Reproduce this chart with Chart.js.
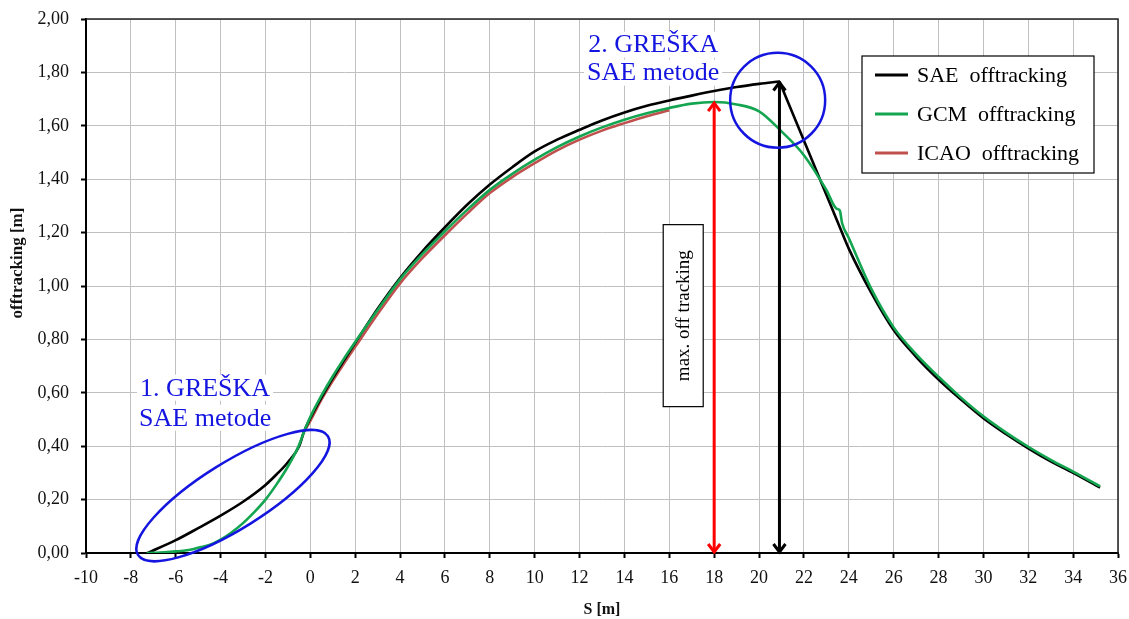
<!DOCTYPE html>
<html>
<head>
<meta charset="utf-8">
<script src="https://cdn.jsdelivr.net/npm/chart.js@4.4.0/dist/chart.umd.min.js"></script>
<style>
  body { margin: 0; background: #fff; }
</style>
</head>
<body>
<canvas id="chart" width="1129" height="619"></canvas>
<script>
// series
const saeX = [-7.25, -6, -5, -4, -3, -2, -1.5, -1, -0.5, -0.28, 0, 0.5, 1, 1.5, 2, 3, 4, 5, 6, 7, 8, 9, 10, 11, 12, 13, 14, 15, 16, 17, 18, 19, 20, 20.91, 22, 23, 23.6, 24, 25, 26, 27, 28, 29, 30, 31, 32, 33, 34, 35.2];
const saeY = [0, 0.048, 0.093, 0.14, 0.192, 0.255, 0.295, 0.34, 0.4, 0.455, 0.505, 0.583, 0.655, 0.722, 0.787, 0.915, 1.03, 1.13, 1.22, 1.305, 1.38, 1.445, 1.504, 1.548, 1.585, 1.62, 1.65, 1.675, 1.695, 1.713, 1.73, 1.745, 1.757, 1.766, 1.545, 1.342, 1.22, 1.14, 0.975, 0.835, 0.735, 0.65, 0.575, 0.505, 0.446, 0.392, 0.343, 0.3, 0.245];

const gcmX = [-7.3, -6.5, -6, -5.5, -5.2, -5, -4.5, -4, -3.5, -3, -2.5, -2, -1.5, -1, -0.5, -0.28, 0, 0.5, 1, 1.5, 2, 3, 4, 5, 6, 7, 8, 9, 10, 11, 12, 13, 14, 15, 16, 17, 18, 19, 20, 21, 22, 23, 23.45, 23.6, 23.7, 24, 25, 26, 27, 28, 29, 30, 31, 32, 33, 34, 35.2];
const gcmY = [0, 0.003, 0.006, 0.01, 0.015, 0.02, 0.03, 0.05, 0.078, 0.112, 0.153, 0.2, 0.258, 0.324, 0.405, 0.455, 0.51, 0.59, 0.662, 0.728, 0.79, 0.91, 1.025, 1.12, 1.205, 1.286, 1.36, 1.42, 1.473, 1.52, 1.56, 1.594, 1.623, 1.647, 1.667, 1.683, 1.689, 1.68, 1.654, 1.579, 1.49, 1.36, 1.29, 1.283, 1.236, 1.18, 0.99, 0.845, 0.745, 0.66, 0.582, 0.512, 0.452, 0.398, 0.349, 0.305, 0.25];

const icaoX = [-0.28, 0, 0.5, 1, 1.5, 2, 3, 4, 5, 6, 7, 8, 9, 10, 11, 12, 13, 14, 15, 16];
const icaoY = [0.455, 0.495, 0.575, 0.645, 0.71, 0.772, 0.895, 1.01, 1.105, 1.19, 1.272, 1.348, 1.408, 1.46, 1.508, 1.548, 1.582, 1.61, 1.636, 1.658];

const seriesNames = ["SAE  offtracking", "GCM  offtracking", "ICAO  offtracking"];
const seriesColors = ["#000000", "#14a550", "#c0504d"];

const xMin = -10, xMax = 36, xStep = 2;
const yMin = 0, yMax = 2, yStep = 0.2;

const toPoints = (xs, ys) => xs.map((x, i) => ({ x: x, y: ys[i] }));
const peakIndex = (ys) => {
  let k = 0;
  ys.forEach((v, i) => { if (v > ys[k]) k = i; });
  return k;
};

const serif = "'Liberation Serif', 'Times New Roman', serif";

function arrow(ctx, px, yTop, yBottom, color) {
  const head = 9, half = 6;
  ctx.strokeStyle = color;
  ctx.lineWidth = 3;
  ctx.beginPath();
  ctx.moveTo(px, yTop + 1);
  ctx.lineTo(px, yBottom - 1);
  ctx.stroke();
  ctx.beginPath();
  ctx.moveTo(px - half, yTop + head);
  ctx.lineTo(px, yTop + 1);
  ctx.lineTo(px + half, yTop + head);
  ctx.moveTo(px - half, yBottom - head);
  ctx.lineTo(px, yBottom - 1);
  ctx.lineTo(px + half, yBottom - head);
  ctx.stroke();
}

function boxedText(ctx, lines, cx, cy, lineH, color) {
  ctx.font = "26px " + serif;
  ctx.textAlign = "center";
  ctx.textBaseline = "middle";
  lines.forEach((t, i) => {
    const w = ctx.measureText(t).width;
    const ty = cy + i * lineH;
    ctx.fillStyle = "#fff";
    ctx.fillRect(cx - w / 2 - 3, ty - 13, w + 6, 26);
  });
  lines.forEach((t, i) => {
    ctx.fillStyle = color;
    ctx.fillText(t, cx, cy + i * lineH + 1);
  });
}

const frame = {
  id: "frame",
  beforeDatasetsDraw(chart) {
    const { ctx, chartArea: a } = chart;
    ctx.save();
    ctx.strokeStyle = "#222";
    ctx.lineWidth = 1.5;
    ctx.beginPath();
    ctx.moveTo(a.left, a.top);
    ctx.lineTo(a.right, a.top);
    ctx.lineTo(a.right, a.bottom);
    ctx.stroke();

    // y title sits a bit above the middle of the axis in the original
    ctx.translate(18, a.top + (a.bottom - a.top) * 0.457);
    ctx.rotate(-Math.PI / 2);
    ctx.font = "bold 17px " + serif;
    ctx.fillStyle = "#111";
    ctx.textAlign = "center";
    ctx.textBaseline = "middle";
    ctx.fillText("offtracking [m]", 0, 0);
    ctx.restore();
  }
};

const annotations = {
  id: "annotations",
  afterDatasetsDraw(chart) {
    const { ctx, chartArea: a, scales: { x, y } } = chart;
    ctx.save();

    // vertical arrows to the two maxima
    const gi = peakIndex(gcmY), si = peakIndex(saeY);
    arrow(ctx, x.getPixelForValue(gcmX[gi]), y.getPixelForValue(gcmY[gi]), y.getPixelForValue(0), "#ff0000");
    arrow(ctx, x.getPixelForValue(saeX[si]), y.getPixelForValue(saeY[si]), y.getPixelForValue(0), "#000000");

    // rotated text box
    const bx = x.getPixelForValue(16.62), by = y.getPixelForValue(0.889);
    ctx.fillStyle = "#fff";
    ctx.fillRect(bx - 20, by - 91, 40, 182);
    ctx.strokeStyle = "#000";
    ctx.lineWidth = 1.2;
    ctx.strokeRect(bx - 20, by - 91, 40, 182);
    ctx.save();
    ctx.translate(bx, by);
    ctx.rotate(-Math.PI / 2);
    ctx.font = "19px " + serif;
    ctx.fillStyle = "#000";
    ctx.textAlign = "center";
    ctx.textBaseline = "middle";
    ctx.fillText("max. off tracking", 0, 1);
    ctx.restore();

    // blue marks
    ctx.strokeStyle = "#1515e0";
    ctx.lineWidth = 2.5;
    ctx.beginPath();
    ctx.ellipse(x.getPixelForValue(-3.45), y.getPixelForValue(0.215), 112, 33, -32 * Math.PI / 180, 0, Math.PI * 2);
    ctx.stroke();
    ctx.beginPath();
    ctx.arc(x.getPixelForValue(20.83), y.getPixelForValue(1.696), 47.5, 0, Math.PI * 2);
    ctx.stroke();

    boxedText(ctx, ["1. GREŠKA", "SAE metode"], x.getPixelForValue(-4.69), y.getPixelForValue(0.619), 30, "#1515e0");
    boxedText(ctx, ["2. GREŠKA", "SAE metode"], x.getPixelForValue(15.28), y.getPixelForValue(1.904), 28, "#1515e0");

    // legend
    const lx = a.right - 256, ly = a.top + 37, lw = 232, lh = 117;
    ctx.fillStyle = "#fff";
    ctx.fillRect(lx, ly, lw, lh);
    ctx.strokeStyle = "#000";
    ctx.lineWidth = 1.2;
    ctx.strokeRect(lx, ly, lw, lh);
    ctx.font = "22px " + serif;
    ctx.textAlign = "left";
    ctx.textBaseline = "middle";
    seriesNames.forEach((name, i) => {
      const ry = ly + 19 + i * 39;
      ctx.strokeStyle = seriesColors[i];
      ctx.lineWidth = 3;
      ctx.beginPath();
      ctx.moveTo(lx + 13, ry);
      ctx.lineTo(lx + 46, ry);
      ctx.stroke();
      ctx.fillStyle = "#000";
      ctx.fillText(name, lx + 55, ry + 1);
    });

    ctx.restore();
  }
};

const lineStyle = (i) => ({
  borderColor: seriesColors[i],
  backgroundColor: seriesColors[i],
  borderWidth: 2.6,
  pointRadius: 0,
  showLine: true,
  fill: false,
  cubicInterpolationMode: "monotone"
});

// SAE has a sharp corner at its maximum, so draw it as two runs meeting there
const saePeak = peakIndex(saeY);
const saeRise = toPoints(saeX.slice(0, saePeak + 1), saeY.slice(0, saePeak + 1));
const saeFall = toPoints(saeX.slice(saePeak), saeY.slice(saePeak));

new Chart(document.getElementById("chart"), {
  type: "scatter",
  data: {
    datasets: [
      { label: seriesNames[0], data: saeRise, order: 1, ...lineStyle(0) },
      { label: seriesNames[0], data: saeFall, order: 1, ...lineStyle(0) },
      { label: seriesNames[1], data: toPoints(gcmX, gcmY), order: 0, ...lineStyle(1) },
      { label: seriesNames[2], data: toPoints(icaoX, icaoY), order: 2, ...lineStyle(2) }
    ]
  },
  options: {
    responsive: false,
    animation: false,
    layout: { padding: { top: 19, right: 11, left: 0, bottom: 0 } },
    plugins: {
      legend: { display: false },
      tooltip: { enabled: false }
    },
    scales: {
      x: {
        type: "linear",
        min: xMin,
        max: xMax,
        afterFit: (scale) => {
          scale.height = 66;
          scale.paddingLeft = 0;
          scale.paddingRight = 0;
        },
        afterBuildTicks: (scale) => {
          const t = [];
          for (let v = xMin; v <= xMax; v += xStep) t.push({ value: v });
          scale.ticks = t;
        },
        grid: { color: "#c0c0c0", lineWidth: 1, tickColor: "#000", tickLength: 5, tickWidth: 2 },
        border: { color: "#000", width: 2 },
        ticks: {
          color: "#111",
          padding: 9,
          maxRotation: 0,
          font: { family: serif, size: 18 },
          callback: (v) => String(v)
        },
        title: {
          display: true,
          text: "S [m]",
          color: "#111",
          font: { family: serif, size: 16, weight: "bold" },
          padding: { top: 0, bottom: 0 }
        }
      },
      y: {
        min: yMin,
        max: yMax,
        afterFit: (scale) => {
          scale.width = 86;
          scale.paddingTop = 0;
          scale.paddingBottom = 0;
        },
        afterBuildTicks: (scale) => {
          const t = [];
          for (let k = 0; k <= Math.round((yMax - yMin) / yStep); k++) t.push({ value: yMin + k * yStep });
          scale.ticks = t;
        },
        grid: { color: "#c0c0c0", lineWidth: 1, tickColor: "#000", tickLength: 5, tickWidth: 2 },
        border: { color: "#000", width: 2 },
        ticks: {
          color: "#111",
          padding: 12,
          font: { family: serif, size: 18 },
          callback: (v) => v.toFixed(2).replace(".", ",")
        },
        title: { display: false }
      }
    }
  },
  plugins: [frame, annotations]
});
</script>
</body>
</html>
